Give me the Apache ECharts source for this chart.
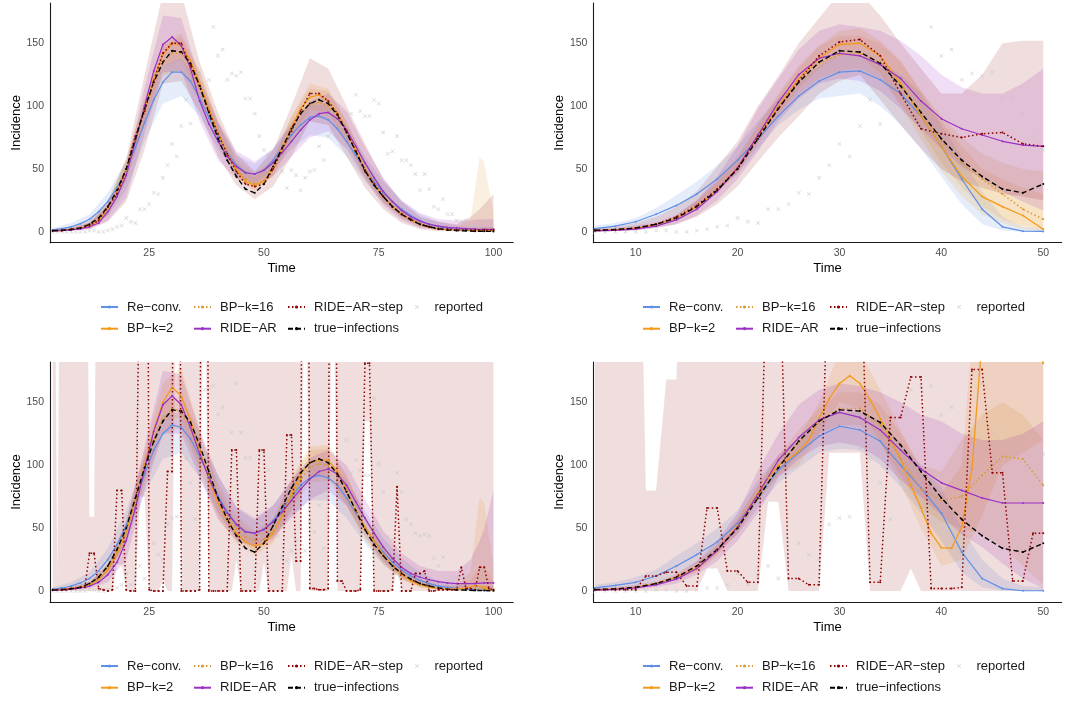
<!DOCTYPE html>
<html><head><meta charset="utf-8">
<script src="https://cdn.jsdelivr.net/npm/echarts@6/dist/echarts.min.js"></script>
<style>html,body{margin:0;padding:0;background:#fff}#c{width:1073px;height:702px}</style>
</head><body><div id="c"></div><script>
// ---------- names ----------
const N_RECONV='Re\u2212conv.', N_BP2='BP\u2212k=2', N_BP16='BP\u2212k=16', N_RIDE='RIDE\u2212AR', N_STEP='RIDE\u2212AR\u2212step', N_TRUE='true\u2212infections', N_REP='reported';
// ---------- tick labels ----------
const yTicks=[0,50,100,150];
const xTicksLong=[25,50,75,100];
const xTicksShort=[10,20,30,40,50];
// ---------- time grids ----------
const tA=[4,6,8,10,12,14,16,18,20,22,24,26,28,30,32,34,36,38,40,42,44,46,48,50,52,54,56,58,60,62,64,66,68,70,72,74,76,78,80,82,84,86,88,90,92,94,96,98,100];
const tB=[6,8,10,12,14,16,18,20,22,24,26,28,30,32,34,36,38,40,42,44,46,48,50];
const days=[4,5,6,7,8,9,10,11,12,13,14,15,16,17,18,19,20,21,22,23,24,25,26,27,28,29,30,31,32,33,34,35,36,37,38,39,40,41,42,43,44,45,46,47,48,49,50,51,52,53,54,55,56,57,58,59,60,61,62,63,64,65,66,67,68,69,70,71,72,73,74,75,76,77,78,79,80,81,82,83,84,85,86,87,88,89,90,91,92,93,94,95,96,97,98,99,100];
const daysD=[6,7,8,9,10,11,12,13,14,15,16,17,18,19,20,21,22,23,24,25,26,27,28,29,30,31,32,33,34,35,36,37,38,39,40,41,42,43,44,45,46,47,48,49,50];
const bA=[4,8,12,16,20,24,28,32,36,40,44,48,52,56,60,64,68,72,76,80,84,88,92,95,97,98,100];
const tD2=[6,8,10,12,14,16,18,20,22,23,24,25,26,27,28,29,30,31,32,33,34,35,36,37,38,39,40,41,42,43,44,45,46,47,48,49,50];
// ---------- shared truth & reported ----------
const truth=[0.8,1.2,1.8,3,6,11,20,33,50,74,98,119,135,144,143,134,116,95,74,57,44,34,31,38,52,67,82,94,102,105,102,93,79,64,49,37,28,20,14,9.5,6,4,2.5,1.5,1,0.8,0.5,0.4,0.3];
const repAB=[0,0,0,0,0,0,0,0,1,1, 0,0,1,2,4,5,11,8,7,18, 18,22,31,30,43,53,70,60,84,105, 86,125,126,105,121,163,140,145,121,126, 124,127,106,106,94,76,65,61,52,58, 48,35,49,45,33,43,48,49,68,57, 76,95,88,84,94,94,109,96,92,92, 105,102,79,62,64,76,57,57,53,46, 33,46,34,20,18,26,14,14,9,8.5, 9,4.5,4.5,3,3,2.5,2];
const repCD=[0,0,0,0,0,0,0,0,1,1, 0,0,1,2.6,2.6,5,14,5,12,20, 10,22,38,29,25,53,58,59,113,105, 86,57,86,160,162,163,140,146,80,126, 165,126,106,106,52,43,109,96,58,44, 27,24,32,40,52,32,55,47,68,34, 56,109,56,88,120,94,104,96,92,92, 153,101,79,43,41,94,79,57,53,46, 44,45,44,26,20,27,9,9,11,7, 11,5,3.5,4,2,1,1];
// ---------- panel A (top-left) ----------
const reconvA=[1.5,2.5,4,6.5,10,16,24,35,49,67,87,105,119,127,127,120,106,91,76,63,53,47,46,49,57,67,77,85,91,92,89,82,72,61,50,40,31,24,18,13,9,6,4,3,2,1.5,1.2,1,1];
const bp2A=[0.8,1.1,1.8,2.8,5,9,19,32,49,73,98,122,141,150,148,136,118,98,79,62,49,40,37,40,51,67,83,98,107,109,104,94,80,65,50,38,28,20,14,9.5,6,4,2.6,1.8,1.4,1.2,1.1,1,1];
const bp16A=[0.8,1.1,1.8,2.8,5,9,19,32,49,72,96,118,135,142,142,132,115,96,78,62,50,42,38,41,50,65,80,94,101,103,100,92,79,64,50,38,28,20,14,9.5,6,4,2.6,1.8,1.4,1.2,1.5,2,2];
const rideA=[0.7,1,1.5,2.3,4,7,16,28,45,72,100,128,149,155,148,130,104,86,72,60,52,47,46,49,55,63,72,81,89,94,95,90,81,68,55,43,32,24,17,12,8.5,6,4.5,3.5,3,2.5,2.2,2,2];
const stepA=[1,1,2,3,5,9,20,30,50,76,96,120,142,150,150,132,116,96,78,62,48,38,36,38,50,66,80,96,110,110,104,94,80,64,48,38,28,20,14,10,6,4,2,2,1.5,1.5,1.5,1.5,1.5];
const reconvA_lo=[0.5,2,5,13,33,72,102,108,92,66,45,39,49,66,77,75,60,40,23,12,5,2,0.5,0.3,0.3,0.3,0.3];
const reconvA_hi=[3,7,14,31,57,100,132,138,118,86,61,54,66,88,101,101,84,60,40,25,14,8,5,4,4,4,4];
const bp2A_lo=[0.3,1,3,13,42,88,132,137,108,71,43,32,45,75,97,95,72,44,24,11,4,1.5,0.5,0.3,0.3,0.3,0.3];
const bp2A_hi=[1.5,3,7,22,56,104,150,158,128,87,55,43,58,92,118,114,88,56,33,17,8,4,2.5,2.5,3,3,3];
const bp16A_lo=[0.3,1,3,13,40,84,125,128,104,70,44,34,44,70,92,90,70,43,24,11,4,1.5,0.5,0.3,0.3,0.3,0.3];
const bp16A_hi=[1.5,3,7,23,58,106,148,155,128,88,58,46,58,92,114,112,88,57,34,18,9,5,4,10,60,55,15];
const rideA_lo=[0.3,0.8,2,9,27,78,127,128,88,57,42,37,44,60,75,80,66,42,21,9,3,1.5,1,1,1,1,1];
const rideA_hi=[2,3,7,21,50,115,172,170,122,88,64,56,66,85,104,110,96,68,43,25,15,10,9,9,10,10,10];
const stepA_lo=[0.3,1,2,8,24,65,118,120,95,60,37,26,36,60,88,85,60,35,18,7,2,0.5,0.5,0.5,0.5,0.5,0.5];
const stepA_hi=[2,4,9,25,58,125,190,190,135,95,62,48,65,100,138,130,100,70,42,24,12,8,6,12,18,22,30];
// ---------- panel B (top-right) ----------
const reconvB=[2.5,4.5,8,14,21,30,42,57,74,92,108,120,127,128,121,110,92,68,42,18,4,0.5,0.3];
const bp2B=[1,1.5,2.8,5.5,11,20,33,51,76,100,122,138,149,150,140,118,92,68,44,28,20,13,2];
const bp16B=[1,1.5,2.8,5.5,11,20,33,51,76,99,119,134,141,142,135,117,95,72,55,42,30,18,10];
const rideB=[0.8,1.2,2.2,4.5,9.5,18,32,51,77,103,125,138,142,140,133,122,104,90,82,77,72,69,68];
const stepB=[1,1.5,3,6,12,21,34,50,76,98,120,140,151,153,140,110,82,78,75,78,79,70,68];
const reconvB_lo=[1,2.5,4,8,14,22,33,46,66,85,97,106,108,110,100,85,66,44,22,6,1,0,0];
const reconvB_hi=[5,7,11,19,29,40,53,68,88,106,120,132,140,140,135,125,110,85,60,32,12,4,3];
const bp2B_lo=[0.5,1,2,4.5,9,18,31,48,71,94,114,130,140,140,126,100,74,48,28,14,7,2,0];
const bp2B_hi=[2,2.5,4,7,13,25,40,58,84,108,130,148,160,162,152,136,112,88,68,50,42,35,30];
const bp16B_lo=[0.5,1,2,4.5,9,18,31,47,70,92,110,122,128,130,122,102,80,55,35,20,10,5,2];
const bp16B_hi=[2,2.5,4,7,13,25,40,60,86,110,132,148,156,156,150,135,112,92,75,62,55,50,48];
const rideB_lo=[0.3,0.6,1.2,3,6,13,25,42,64,88,106,118,122,120,112,98,82,66,52,42,32,24,17];
const rideB_hi=[2,3,5,8,14,25,44,68,98,122,145,160,165,163,160,152,140,125,115,110,110,118,130];
const stepB_lo=[0.5,0.8,1,3,6,12,22,36,56,75,92,110,120,125,105,85,66,50,40,35,30,28,25];
const stepB_hi=[3,4,7,12,20,32,52,72,100,124,150,170,190,190,172,150,130,110,110,125,150,152,152];
// ---------- panel C (bottom-left) ----------
const reconvC=[1.5,2.5,4,6.5,10,16,25,37,52,72,93,112,125,132,130,121,107,91,76,63,53,47,46,49,56,65,75,84,90,92,90,84,74,62,51,40,31,23,17,12,8.5,6,4,3,2,1.5,1.2,1,1];
const bp2C=[0.8,1.2,2,3,5,9,17,29,47,72,100,128,150,162,155,136,112,89,70,56,46,39,36,38,46,60,77,93,102,104,104,95,80,63,51,40,29,20,13,8,5,3,2,1.5,1.5,2.5,4.5,3,0.5];
const bp16C=[0.8,1.2,2,3,5,9.5,18,31,48,72,97,120,137,145,143,130,112,92,74,60,50,43,40,41,48,60,75,89,98,101,100,93,80,64,50,39,29,20,14,9,6,3.5,2,1.5,1.2,1.5,2,1.5,1];
const rideC=[0.7,1,1.6,2.5,4,7,13,23,40,66,97,127,148,155,148,130,109,90,74,62,53,47,46,49,55,63,72,81,89,95,97,93,84,71,58,46,35,26,19,14,11,9,7.5,6.5,6,6,6,6.5,6.5];
const stepC=[1,1,1,1,2,2,3,3,30,30, 2,1,0,1,80,80,1,0,0,300, 1000,1,0,0,0,95,95,1000,0,0, 0,0,1,1000,0,0,0,0,0,112, 112,0,0,0,0,112,112,0,0,0, 0,124,124,24,24,1000,2,2,1,1, 2,1000,8,8,0,0,0,1,181,181, 0,0,0,0,1,83,0,0,0,14, 14,16,0,0,1,1,1,1,1,19, 2,2,1,19,19,2,1];
const reconvC_lo=[0.5,2,5,15,38,78,105,110,90,62,42,36,44,60,72,72,58,38,21,10,4,1.5,0.5,0.3,0.3,0.3,0.3];
const reconvC_hi=[3,7,15,34,64,106,140,142,122,92,66,56,68,88,104,104,88,64,42,26,15,8,5,4,4,4,4];
const bp2C_lo=[0.3,1,3,13,40,88,135,138,95,58,38,28,38,66,90,92,68,42,22,9,3,1,0.5,1,1,1,0.5];
const bp2C_hi=[1.5,3,7,21,55,112,165,178,128,82,55,45,56,90,115,116,92,60,36,18,8,4,4,15,75,70,20];
const bp16C_lo=[0.3,1,3,13,40,85,125,130,98,62,42,32,40,64,86,88,68,40,22,9,3,1,0.5,0.5,0.5,0.5,0.5];
const bp16C_hi=[1.5,3,7,22,56,108,150,155,126,86,60,48,58,88,112,113,92,60,36,19,9,5,4,8,20,20,8];
const rideC_lo=[0.3,0.8,2,7,25,80,125,125,90,57,40,35,42,58,73,80,68,44,24,11,5,2.5,1,1,1,1,1];
const rideC_hi=[2,3,7,20,55,115,175,172,128,92,67,58,68,88,106,112,100,73,48,30,20,16,16,25,40,50,80];
const stepC_lo=[0,0,0,0,0,0,0,0,0,0, 0,0,0,0,21,21,0,0,0,75, 75,0,0,0,9,0,0,300,0,0, 0,0,0,300,0,0,0,0,0,0, 25,0,0,0,0,0,23,0,0,0, 0,0,28,0,0,300,0,0,0,0, 0,300,0,0,0,0,0,0,135,135, 0,0,0,0,0,18,0,0,0,0, 0,0,0,0,0,0,0,0,0,0, 0,0,0,0,0,0,0];
const stepC_hi=[500,10,500,500,500,500,500,500,59,59, 500,500,500,500,500,500,500,500,500,500, 500,500,500,500,500,500,500,1500,500,500, 500,500,500,1500,500,500,500,500,500,500, 500,500,500,500,500,500,500,500,500,500, 500,500,500,500,500,1500,500,500,500,500, 500,1500,500,500,500,500,500,500,500,500, 500,500,500,500,500,500,500,500,500,500, 500,500,500,500,500,500,500,500,500,500, 500,500,500,500,500,500,500];
// ---------- panel D (bottom-right) ----------
const reconvD=[2.5,4.5,7,12,20,29,39,54,76,96,110,123,131,128,119,100,82,62,31,10,2,0.3,0.3];
const bp2D=[1,1.5,3,6,11,18,32,52,78,90,100,105,111,120,137,153,165,171,165,152,137,121,105,84,66,46,34.5,34,51,97,200,250,270,260,240,210,181];
const bp16D=[1,1.5,3,6,11,19,33,51,76,99,118,135,145,145,132,105,81,72,75,92,107,105,84];
const rideD=[0.8,1.3,2.5,5,9.5,18,32,51,77,104,122,136,142,138,128,112,97,86,80,74,70,70,70];
const stepD=[1,1,1,1,1,12,12,15,15,4,4,66,66,16,16,7,7,300,300,10,10,5,5,300,300,300,300,7,7,138,138,170,170,2,2,2,3,176,176,94,94,8,8,46,46];
const reconvD_lo=[1,2.5,4,8,14,22,32,45,66,86,98,110,113,112,100,83,62,40,15,3,0.5,0,0];
const reconvD_hi=[5,7,11,17,28,38,50,64,88,108,122,136,142,142,135,118,100,82,50,25,10,4,3];
const bp2D_lo=[0.5,1,2,5,9,15,28,46,72,92,100,125,150,145,118,85,50,20,25,60,100,110,120];
const bp2D_hi=[2,2.5,4,7,13,22,36,58,84,108,122,150,190,190,160,128,95,78,100,300,500,500,500];
const bp16D_lo=[0.5,1,2,5,9,16,29,46,72,92,108,125,132,132,118,92,66,55,50,45,35,20,5];
const bp16D_hi=[2,2.5,4,7,13,23,37,58,84,108,128,145,158,158,148,125,100,95,120,140,150,140,120];
const rideD_lo=[0.3,0.6,1.2,3,6,13,24,40,62,90,105,115,118,115,105,88,75,60,45,35,22,10,2];
const rideD_hi=[2,3,5,8,14,24,40,62,96,125,148,160,165,163,158,150,140,135,125,120,120,125,135];
const stepD_lo=[0,0,0,0,0,0,0,0,0,0, 0,18,18,0,0,0,0,71,71,0, 0,0,0,110,110,110,110,0,0,0, 0,18,0,0,0,0,0,0,0,0, 0,0,0,0,0];
const stepD_hi=[500,500,500,500,500,80,80,168,168,500, 500,500,500,500,500,500,500,500,500,500, 500,500,500,500,500,500,500,500,500,500, 500,500,500,500,500,500,500,500,500,500, 500,500,500,500,500];

// ---------- styling ----------
const F="'Liberation Sans', Arial, Helvetica, sans-serif";
const COL={reconv:'#5f8fe6',bp2:'#f39a1a',bp16:'#d69c33',ride:'#9b30c6',step:'#8b0000',truth:'#000000',rep:'#c4c4c4'};
const XPATH='path://M1,0L5,4L9,0L10,1L6,5L10,9L9,10L5,6L1,10L0,9L4,5L0,1Z';

function P(t,v,tmin,tmax){const o=[];for(let i=0;i<t.length;i++){if((tmin==null||t[i]>=tmin)&&(tmax==null||t[i]<=tmax))o.push([t[i],v[i]]);}return o;}
// ribbon drawn as one polygon from the library's coordinate conversion
function band(gi,t,lo,hi,color,op){
  return {type:'custom',xAxisIndex:gi,yAxisIndex:gi,silent:true,animation:false,z:1,
    data:t.map((x,i)=>[x,lo[i],hi[i]]),
    encode:{x:0,y:[1,2]},
    renderItem:function(params,api){
      if(params.dataIndex!==0) return null;
      const pts=[];
      for(let i=0;i<t.length;i++) pts.push(api.coord([t[i],hi[i]]));
      for(let i=t.length-1;i>=0;i--) pts.push(api.coord([t[i],lo[i]]));
      const cs=params.coordSys;
      return {type:'polygon',shape:{points:pts},style:{fill:color,opacity:op},
        clipPath:{type:'rect',shape:{x:cs.x,y:cs.y,width:cs.width,height:cs.height}}};
    }};
}
function line(gi,name,data,color,type,width){
  return {type:'line',name:name,xAxisIndex:gi,yAxisIndex:gi,data:data,symbol:'circle',symbolSize:2,showSymbol:true,
    lineStyle:{color:color,width:width,type:type},itemStyle:{color:color},z:3,silent:true,animation:false};
}
function scat(gi,data){
  return {type:'scatter',name:N_REP,xAxisIndex:gi,yAxisIndex:gi,data:data,symbol:XPATH,symbolSize:4,symbolKeepAspect:true,
    itemStyle:{color:COL.rep},z:2,silent:true,animation:false};
}

const panels=[
 {gi:0,grid:{left:50,top:3,width:463.2,height:239.7},xmin:3.4,xmax:104.3,xt:xTicksLong,tmin:null,tmax:null,
  rep:repAB,bt:bA,
  bands:[[reconvA_lo,reconvA_hi],[bp2A_lo,bp2A_hi],[bp16A_lo,bp16A_hi],[rideA_lo,rideA_hi],[stepA_lo,stepA_hi]],
  stepBandT:null,
  lines:[[tA,reconvA],[tA,bp2A],[tA,bp16A],[tA,rideA],[tA,stepA]]},
 {gi:1,grid:{left:593.4,top:3,width:468.2,height:239.7},xmin:5.85,xmax:51.8,xt:xTicksShort,tmin:6,tmax:50,
  rep:repAB,bt:tB,
  bands:[[reconvB_lo,reconvB_hi],[bp2B_lo,bp2B_hi],[bp16B_lo,bp16B_hi],[rideB_lo,rideB_hi],[stepB_lo,stepB_hi]],
  stepBandT:null,
  lines:[[tB,reconvB],[tB,bp2B],[tB,bp16B],[tB,rideB],[tB,stepB]]},
 {gi:2,grid:{left:50,top:362,width:463.2,height:240},xmin:3.4,xmax:104.3,xt:xTicksLong,tmin:null,tmax:null,
  rep:repCD,bt:bA,
  bands:[[reconvC_lo,reconvC_hi],[bp2C_lo,bp2C_hi],[bp16C_lo,bp16C_hi],[rideC_lo,rideC_hi],[stepC_lo,stepC_hi]],
  stepBandT:days,
  lines:[[tA,reconvC],[tA,bp2C],[tA,bp16C],[tA,rideC],[days,stepC]]},
 {gi:3,grid:{left:593.4,top:362,width:468.2,height:240},xmin:5.85,xmax:51.8,xt:xTicksShort,tmin:6,tmax:50,
  rep:repCD,bt:tB,
  bands:[[reconvD_lo,reconvD_hi],[bp2D_lo,bp2D_hi],[bp16D_lo,bp16D_hi],[rideD_lo,rideD_hi],[stepD_lo,stepD_hi]],
  stepBandT:daysD,
  lines:[[tB,reconvD],[tD2,bp2D],[tB,bp16D],[tB,rideD],[daysD,stepD]]}
];

const grid=[],xAxis=[],yAxis=[],series=[],legend=[];
const bandCols=[COL.reconv,COL.bp2,COL.bp16,COL.ride,COL.step];
const bandOps=[0.16,0.15,0.15,0.16,0.13];
const lineNames=[N_RECONV,N_BP2,N_BP16,N_RIDE,N_STEP];
const lineCols=[COL.reconv,COL.bp2,COL.bp16,COL.ride,COL.step];
const lineTypes=['solid','solid',[1.5,2.5],'solid',[1.5,2.5]];
const lineW=[1.2,1.3,1.5,1.2,1.5];

panels.forEach(p=>{
  const gi=p.gi;
  grid.push(p.grid);
  xAxis.push({type:'value',gridIndex:gi,min:p.xmin,max:p.xmax,
    axisLine:{show:true,onZero:false,lineStyle:{color:'#1a1a1a',width:1.1}},axisTick:{show:false},splitLine:{show:false},
    axisLabel:{customValues:p.xt,color:'#4d4d4d',fontSize:10.5,margin:5,fontFamily:F},
    name:'Time',nameLocation:'middle',nameGap:19,nameTextStyle:{fontSize:13,color:'#000',fontFamily:F}});
  yAxis.push({type:'value',gridIndex:gi,min:-8.65,max:182,
    axisLine:{show:true,onZero:false,lineStyle:{color:'#1a1a1a',width:1.1}},axisTick:{show:false},splitLine:{show:false},
    axisLabel:{customValues:yTicks,color:'#4d4d4d',fontSize:10.5,margin:6,fontFamily:F},
    name:'Incidence',nameLocation:'middle',nameGap:27,nameTextStyle:{fontSize:13,color:'#000',fontFamily:F}});
  series.push(scat(gi,P(days,p.rep,p.tmin,p.tmax)));
  p.bands.forEach((b,k)=>{
    const t=(k===4&&p.stepBandT)?p.stepBandT:p.bt;
    series.push(band(gi,t,b[0],b[1],bandCols[k],bandOps[k]));
  });
  p.lines.forEach((l,k)=>{
    series.push(line(gi,lineNames[k],P(l[0],l[1]),lineCols[k],lineTypes[k],lineW[k]));
  });
  series.push(line(gi,N_TRUE,P(tA,truth,p.tmin,p.tmax),COL.truth,[5,3],1.4));
  // legends
  const dx=(gi%2===1)?542:0, dy=(gi>=2)?359:0;
  const cols=[[N_RECONV,N_BP2],[N_BP16,N_RIDE],[N_STEP,N_TRUE],[N_REP]];
  const colX=[100,193,287,415];
  cols.forEach((c,ci)=>{
    legend.push({left:colX[ci]+dx,top:300+dy,orient:'vertical',padding:0,itemGap:7.7,itemWidth:17,itemHeight:4,
      selectedMode:false,data:c,textStyle:{fontSize:13,color:'#1a1a1a',fontFamily:F,lineHeight:14,padding:[0,0,0,4]}});
  });
});

const chart=echarts.init(document.getElementById('c'),null,{renderer:'canvas'});
chart.setOption({animation:false,backgroundColor:'#fff',textStyle:{fontFamily:F},grid,xAxis,yAxis,series,legend});
</script></body></html>
